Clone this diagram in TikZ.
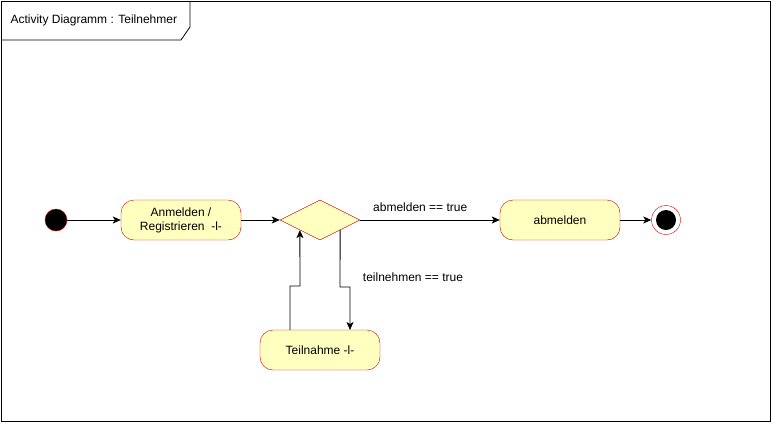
\documentclass[tikz,border=0pt]{standalone}
\usepackage{fontspec}
\setmainfont{Liberation Sans}
\usetikzlibrary{shapes.geometric,calc,arrows.meta}
\definecolor{actfill}{HTML}{FFFFC0}
\definecolor{actline}{HTML}{CC0000}

\begin{document}
\begin{tikzpicture}[x=1pt, y=-1pt, >={Stealth[length=8pt,width=7pt,inset=2pt]}, font=\fontsize{12}{14}\selectfont,
    action/.style={draw=actline, fill=actfill, rounded corners=13pt,
        minimum width=120pt, minimum height=40pt, align=center, inner sep=2pt},
    choice/.style={diamond, draw=actline, fill=actfill, minimum width=80pt,
        minimum height=40pt, aspect=2, inner sep=0pt},
    flow/.style={->, line width=0.9pt}]
    \useasboundingbox (0,0) rectangle (772,424);
    % frame with title tab
    \draw[line width=0.8pt] (1,1) rectangle (770,421);
    \draw[line width=0.8pt] (1,40) -- (181,40) -- (190,27) -- (190,1);
    \node[anchor=west] (title) at (7,20) {Activity Diagramm : Teilnehmer};

    \node[circle, draw=actline, fill=black, minimum size=22pt, inner sep=0pt] (start) at (56,220) {};
    \node[action] (anmelden) at (181,220) {Anmelden /\\Registrieren\ \ -l-};
    \node[choice] (dec) at (320,220) {};
    \node[action] (abmelden) at (560,220) {abmelden};
    \node[action] (teilnahme) at (320,350) {Teilnahme -l-};
    \node[circle, draw=actline, fill=white, minimum size=29pt, inner sep=0pt] (end) at (666,220) {};
    \node[circle, fill=black, minimum size=20pt, inner sep=0pt] (endin) at (end) {};

    \coordinate (decout) at ($(dec.south)!0.5!(dec.east)$);
    \coordinate (decin) at ($(dec.south)!0.5!(dec.west)$);

    \draw[flow] (start) -- (anmelden);
    \draw[flow] (anmelden) -- (dec);
    \draw[flow] (dec.east) -- node[pos=0.43, above=5pt] {abmelden == true} (abmelden);
    \draw[flow] (abmelden) -- (end);
    \draw[flow] (decout) -- (340,287) -- (350,287) -- (350,330);
    \draw[flow] (290,330) -- (290,286) -- (300,286) -- (decin);
    \node (cond) at (413,277) {teilnehmen == true};
\end{tikzpicture}
\end{document}
